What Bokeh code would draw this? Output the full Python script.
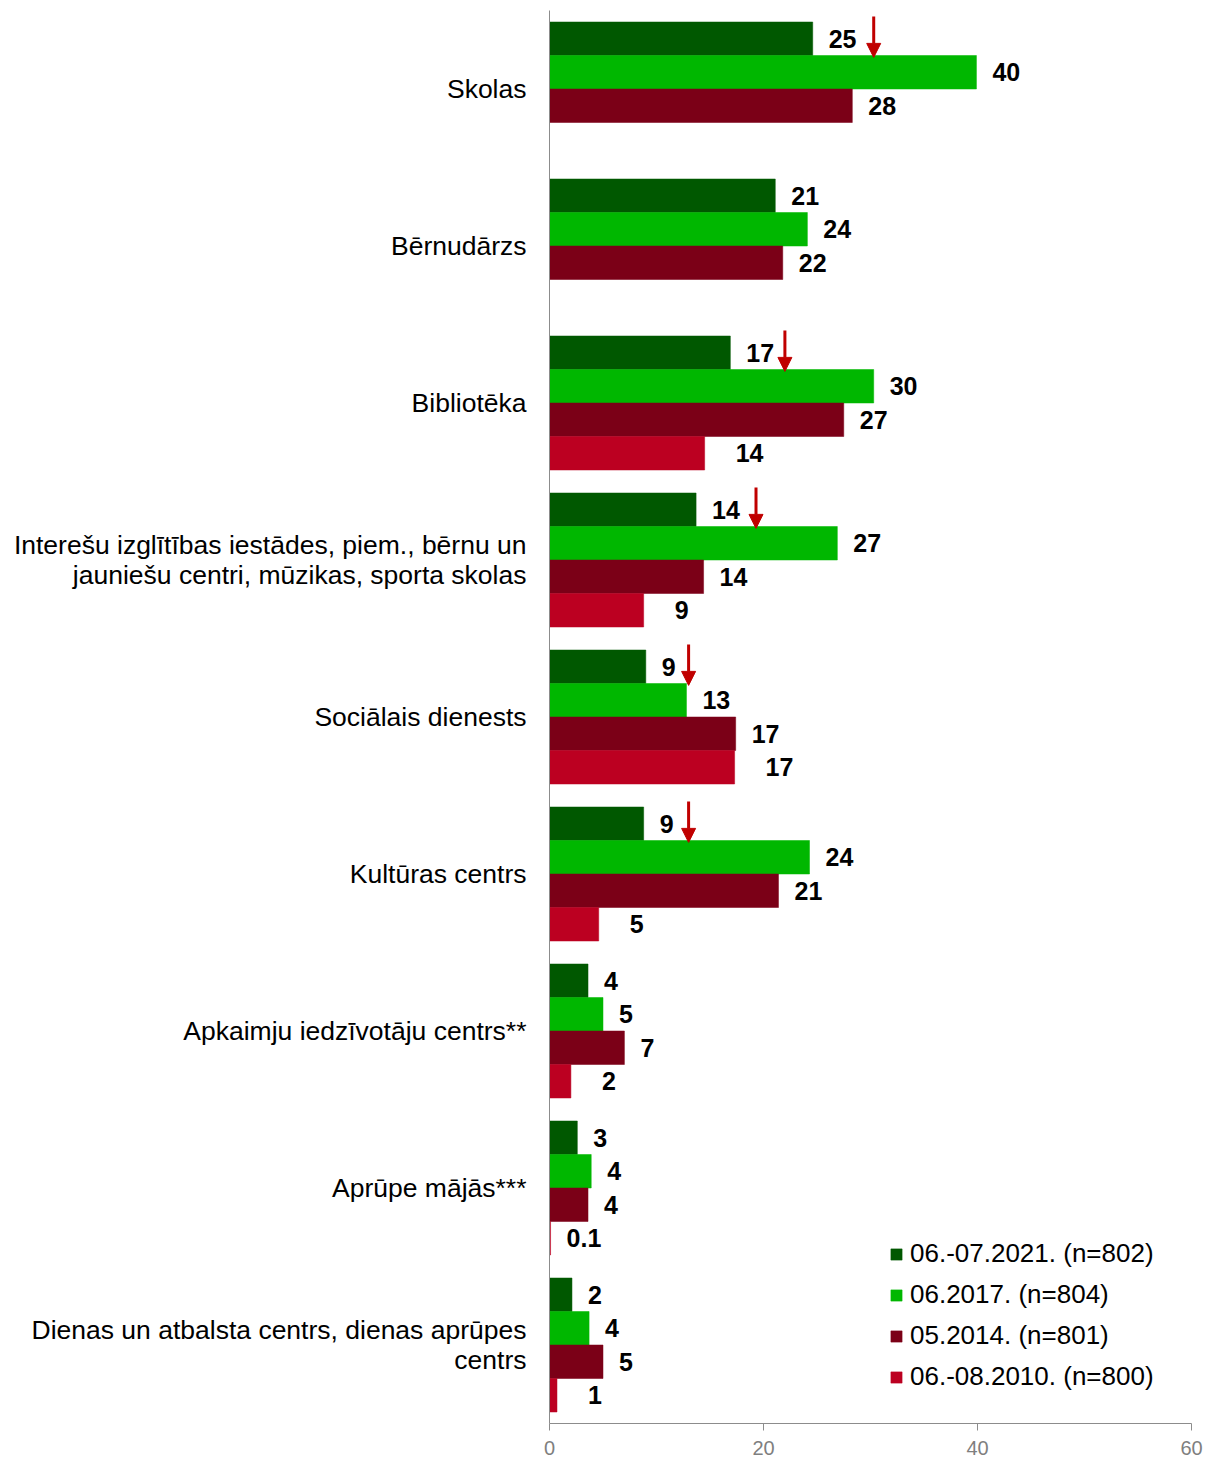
import math
from bokeh.plotting import figure
from bokeh.models import (ColumnDataSource, Range1d, FixedTicker, Arrow, NormalHead,
                          Legend, LegendItem)
from bokeh.core.properties import value
from bokeh.embed import file_html
from bokeh.resources import INLINE

categories = [
    "Skolas",
    "Bērnudārzs",
    "Bibliotēka",
    "Interešu izglītības iestādes, piem., bērnu un\njauniešu centri, mūzikas, sporta skolas",
    "Sociālais dienests",
    "Kultūras centrs",
    "Apkaimju iedzīvotāju centrs**",
    "Aprūpe mājās***",
    "Dienas un atbalsta centrs, dienas aprūpes\ncentrs",
]
series_names = ["06.-07.2021. (n=802)", "06.2017. (n=804)", "05.2014. (n=801)", "06.-08.2010. (n=800)"]
values_2021 = [24.6, 21.1, 16.9, 13.7, 9.0, 8.8, 3.6, 2.6, 2.1]
values_2017 = [39.9, 24.1, 30.3, 26.9, 12.8, 24.3, 5.0, 3.9, 3.7]
values_2014 = [28.3, 21.8, 27.5, 14.4, 17.4, 21.4, 7.0, 3.6, 5.0]
values_2010 = [None, None, 14.5, 8.8, 17.3, 4.6, 2.0, 0.1, 0.7]
labels_2021 = ["25", "21", "17", "14", "9", "9", "4", "3", "2"]
labels_2017 = ["40", "24", "30", "27", "13", "24", "5", "4", "4"]
labels_2014 = ["28", "22", "27", "14", "17", "21", "7", "4", "5"]
labels_2010 = ["", "", "14", "9", "17", "5", "2", "0.1", "1"]
colors = ["#005800", "#00B700", "#7B0017", "#BC0021"]
# significant decrease markers (category index, x position)
arrow_cats = [0, 2, 3, 4, 5]
arrow_x = [30.3, 22.0, 19.3, 13.0, 13.0]
x_ticks = [0, 20, 40, 60]

n = len(categories)
slot = 33.5 / 157.0
centers = [n - 1 - i for i in range(n)]

p = figure(output_backend="svg", toolbar_location=None,
           frame_width=642, frame_height=1413,
           min_border_left=549, min_border_right=14, min_border_top=10, min_border_bottom=34,
           x_range=Range1d(0, 60), y_range=Range1d(-0.5, n - 0.5))
p.outline_line_color = None
p.xgrid.grid_line_color = None
p.ygrid.grid_line_color = None
p.background_fill_color = "white"

all_vals = [values_2021, values_2017, values_2014, values_2010]
all_labs = [labels_2021, labels_2017, labels_2014, labels_2010]
renderers = []
for j, (vals, labs, col) in enumerate(zip(all_vals, all_labs, colors)):
    ys, xs, ls, offs = [], [], [], []
    for i, v in enumerate(vals):
        if v is None:
            continue
        ys.append(centers[i] + (1.5 - j) * slot)
        xs.append(v)
        ls.append(labs[i])
        offs.append(31 if (j == 3 and v >= 0.5) else 16)
    src = ColumnDataSource(dict(y=ys, right=xs, lab=ls, off=offs))
    r = p.hbar(y="y", right="right", left=0, height=slot, source=src,
               fill_color=col, line_color=col, line_alpha=0.5, line_width=1)
    renderers.append(r)
    p.text(x="right", y="y", text="lab", source=src, x_offset="off",
           text_align="left", text_baseline="middle",
           text_font=value("Liberation Sans"), text_font_style="bold",
           text_font_size="25px", text_color="black")

ay0 = [centers[i] + 2 * slot + 0.035 for i in arrow_cats]
ay1 = [centers[i] + slot - 0.012 for i in arrow_cats]
asrc = ColumnDataSource(dict(x0=arrow_x, x1=arrow_x, y0=ay0, y1=ay1))
p.add_layout(Arrow(x_start="x0", y_start="y0", x_end="x1", y_end="y1", source=asrc,
                   line_color="#C00000", line_width=3,
                   end=NormalHead(size=14, fill_color="#C00000", line_color="#C00000")))

# axes
p.xaxis.ticker = FixedTicker(ticks=x_ticks)
p.xaxis.axis_line_color = "#8C8C8C"
p.xaxis.major_tick_line_color = "#8C8C8C"
p.xaxis.major_tick_out = 7
p.xaxis.major_tick_in = 0
p.xaxis.minor_tick_line_color = None
p.xaxis.major_label_text_font = "Liberation Sans"
p.xaxis.major_label_text_font_size = "20px"
p.xaxis.major_label_text_color = "#7F7F7F"
p.xaxis.major_label_standoff = 10

p.yaxis.ticker = FixedTicker(ticks=centers)
p.yaxis.major_label_overrides = {centers[i]: categories[i] for i in range(n)}
p.yaxis.axis_line_color = "#8C8C8C"
p.yaxis.major_tick_line_color = None
p.yaxis.minor_tick_line_color = None
p.yaxis.major_tick_out = 0
p.yaxis.major_tick_in = 0
p.yaxis.major_label_text_font = "Liberation Sans"
p.yaxis.major_label_text_font_size = "26.5px"
p.yaxis.major_label_text_line_height = 1.0
p.yaxis.major_label_text_color = "black"
p.yaxis.major_label_standoff = 23

legend = Legend(items=[LegendItem(label=series_names[j], renderers=[renderers[j]]) for j in range(4)],
                location=(340, 31), orientation="vertical",
                label_text_font="Liberation Sans", label_text_font_size="26px",
                label_text_color="black", glyph_width=14, glyph_height=14,
                label_standoff=7, spacing=10, padding=0, margin=0,
                border_line_color=None, background_fill_alpha=0)
p.add_layout(legend)

open("out.html", "w").write(file_html(p, INLINE))
